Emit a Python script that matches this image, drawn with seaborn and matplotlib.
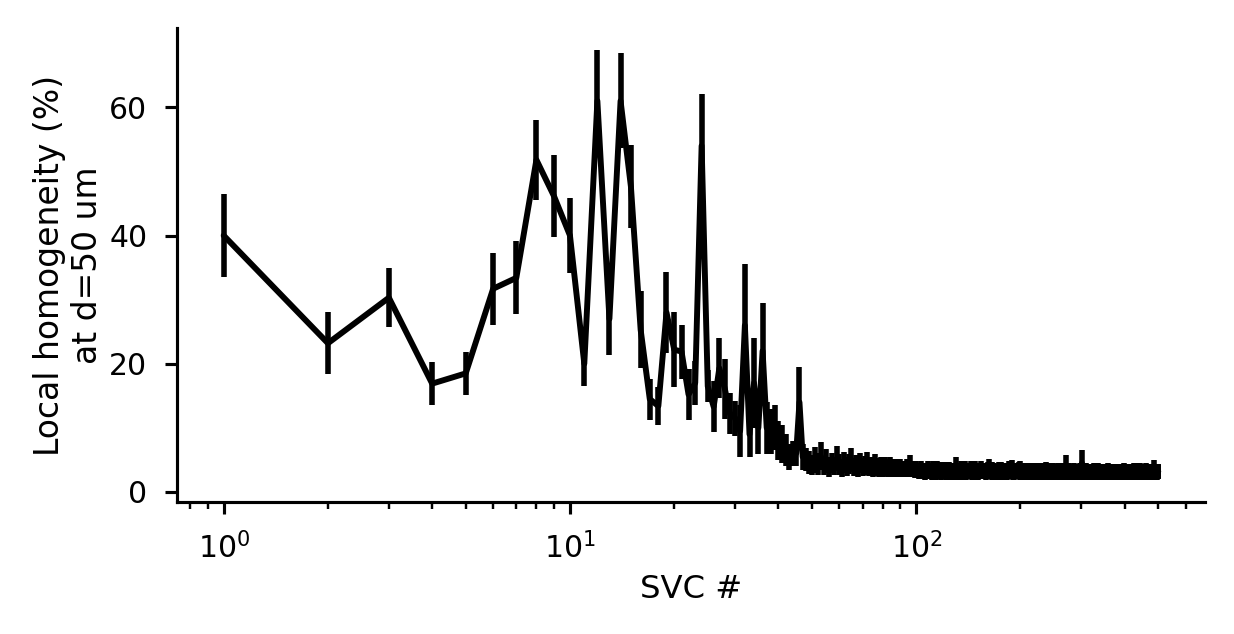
import numpy as np
import pandas as pd
import matplotlib
matplotlib.use("Agg")
import matplotlib.pyplot as plt
import seaborn as sns

# SVC 1..48
head_mean = [40.0, 23.2, 30.3, 16.9, 18.5, 31.7, 33.4, 51.8, 46.1, 40.0,
             20.0, 61.0, 27.0, 61.0, 47.6, 25.3, 14.5, 13.4, 28.0, 22.2,
             21.9, 15.2, 17.0, 54.0, 16.5, 13.3, 19.3, 16.1, 12.2, 11.5,
             9.5, 26.0, 9.0, 17.0, 10.0, 22.0, 10.0, 9.5, 10.0, 8.0,
             7.5, 6.5, 5.5, 6.0, 6.0, 14.0, 5.5, 5.0]
head_err = [6.4, 4.8, 4.6, 3.4, 3.4, 5.6, 5.7, 6.2, 6.4, 5.9,
            3.4, 8.0, 5.7, 7.4, 6.5, 6.0, 3.2, 2.9, 6.3, 5.9,
            4.2, 4.0, 3.5, 8.0, 2.5, 4.0, 4.7, 4.7, 3.2, 2.7,
            4.0, 9.5, 3.5, 7.0, 4.0, 7.5, 4.0, 3.5, 3.5, 3.0,
            3.0, 2.5, 2.0, 2.0, 2.0, 5.5, 2.0, 1.8]

# SVC 49..100
mid_mean = [4.6, 4.2, 5.0, 4.4, 5.6, 4.1, 4.8, 3.9, 4.5, 4.0,
            5.2, 4.3, 3.8, 4.6, 4.0, 4.4, 5.0, 3.9, 4.2, 3.7,
            4.5, 3.9, 4.1, 4.6, 3.8, 4.0, 3.6, 4.4, 3.9, 3.7,
            4.1, 3.6, 4.0, 3.8, 3.5, 4.0, 3.7, 3.9, 3.5, 3.8,
            3.6, 3.9, 3.4, 3.7, 3.5, 3.8, 3.4, 4.2, 3.5, 3.6,
            3.3, 3.7]
mid_err = [1.8, 1.6, 2.0, 1.7, 2.2, 1.5, 1.9, 1.5, 1.6, 1.4,
           2.0, 1.6, 1.4, 1.7, 1.5, 1.6, 1.9, 1.4, 1.5, 1.3,
           1.6, 1.4, 1.5, 1.7, 1.3, 1.4, 1.3, 1.6, 1.4, 1.3,
           1.4, 1.2, 1.4, 1.3, 1.2, 1.4, 1.3, 1.3, 1.2, 1.3,
           1.2, 1.3, 1.1, 1.2, 1.2, 1.3, 1.1, 1.6, 1.2, 1.2,
           1.1, 1.2]

# SVC 101..500 (flat tail)
tail_mean = [
    3.4, 3.1, 3.6, 3.2, 3.5, 3.0, 3.3, 3.7, 3.2, 3.4, 3.1, 3.5, 3.3, 3.0, 3.6, 3.2, 3.4, 3.1, 3.3, 3.5,
    3.2, 3.0, 3.4, 3.6, 3.1, 3.3, 3.5, 3.2, 3.0, 3.9, 3.3, 3.1, 3.4, 3.2, 3.5, 3.0, 3.3, 3.6, 3.1, 3.2,
    3.4, 3.1, 3.3, 3.5, 3.0, 3.2, 3.4, 3.6, 3.1, 3.3, 3.0, 3.4, 3.2, 3.5, 3.1, 3.3, 3.2, 3.4, 3.0, 3.3,
    3.5, 3.8, 3.1, 3.3, 3.0, 3.4, 3.2, 3.5, 3.1, 3.3, 3.2, 3.0, 3.4, 3.1, 3.3, 3.5, 3.2, 3.0, 3.3, 3.1,
    3.4, 3.2, 3.0, 3.3, 3.5, 3.1, 3.2, 3.4, 3.7, 3.1, 3.3, 3.0, 3.2, 3.4, 3.1, 3.3, 3.2, 3.5, 3.0, 3.7,
    3.2, 3.0, 3.3, 3.1, 3.4, 3.2, 3.0, 3.3, 3.5, 3.1, 3.2, 3.0, 3.4, 3.2, 3.1, 3.3, 3.0, 3.2, 3.4, 3.1,
    3.3, 3.0, 3.2, 3.1, 3.4, 3.2, 3.0, 3.3, 3.1, 3.2, 3.4, 3.0, 3.1, 3.3, 3.2, 3.0, 3.6, 3.2, 3.1, 3.3,
    3.0, 3.2, 3.4, 3.1, 3.0, 3.3, 3.2, 3.1, 3.4, 3.0, 3.2, 3.3, 3.1, 3.0, 3.2, 3.4, 3.1, 3.3, 3.0, 3.2,
    3.1, 3.3, 3.0, 3.2, 3.4, 3.1, 3.0, 3.2, 3.3, 3.1, 4.2, 3.2, 3.0, 3.3, 3.1, 3.2, 3.4, 3.0, 3.1, 3.3,
    3.2, 3.0, 3.3, 3.1, 3.2, 3.4, 3.0, 3.1, 3.3, 3.2, 3.0, 3.2, 3.1, 3.3, 3.0, 3.2, 3.4, 3.1, 3.0, 3.2,
    4.5, 3.1, 3.3, 3.0, 3.2, 3.1, 3.3, 3.0, 3.2, 3.4, 3.1, 3.0, 3.2, 3.3, 3.1, 3.0, 3.2, 3.1, 3.3, 3.0,
    3.2, 3.1, 3.3, 3.0, 3.2, 3.4, 3.1, 3.0, 3.2, 3.1, 3.3, 3.0, 3.2, 3.1, 3.0, 3.3, 3.2, 3.1, 3.0, 3.2,
    3.3, 3.1, 3.0, 3.2, 3.1, 3.3, 3.0, 3.2, 3.1, 3.0, 3.2, 3.3, 3.1, 3.0, 3.2, 3.1, 3.3, 3.0, 3.1, 3.2,
    3.0, 3.2, 3.1, 3.3, 3.0, 3.2, 3.1, 3.0, 3.2, 3.3, 3.1, 3.0, 3.2, 3.1, 3.0, 3.3, 3.1, 3.2, 3.0, 3.1,
    3.2, 3.0, 3.3, 3.1, 3.2, 3.0, 3.1, 3.3, 3.0, 3.2, 3.1, 3.0, 3.2, 3.3, 3.1, 3.0, 3.2, 3.1, 3.3, 3.0,
    3.1, 3.2, 3.0, 3.3, 3.1, 3.2, 3.0, 3.1, 3.3, 3.2, 3.0, 3.1, 3.2, 3.0, 3.3, 3.1, 3.2, 3.0, 3.1, 3.2,
    3.3, 3.0, 3.1, 3.2, 3.0, 3.3, 3.1, 3.2, 3.0, 3.1, 3.2, 3.3, 3.0, 3.1, 3.2, 3.0, 3.1, 3.3, 3.2, 3.0,
    3.1, 3.2, 3.0, 3.3, 3.1, 3.0, 3.2, 3.1, 3.3, 3.0, 3.2, 3.1, 3.0, 3.2, 3.3, 3.1, 3.0, 3.2, 3.1, 3.0,
    3.2, 3.3, 3.1, 3.0, 3.2, 3.1, 3.3, 3.0, 3.1, 3.2, 3.0, 3.3, 3.1, 3.2, 3.0, 3.1, 3.2, 3.3, 3.0, 3.1,
    3.2, 3.0, 3.1, 3.3, 3.2, 3.7, 3.1, 3.0, 3.2, 3.3, 3.1, 3.0, 3.2, 3.1, 3.3, 3.0, 3.2, 3.1, 3.3, 3.2]
tail_err = [
    1.2, 1.1, 1.3, 1.2, 1.1, 1.2, 1.3, 1.1, 1.2, 1.1, 1.2, 1.3, 1.1, 1.2, 1.2, 1.1, 1.3, 1.2, 1.1, 1.2,
    1.1, 1.2, 1.3, 1.1, 1.2, 1.2, 1.1, 1.3, 1.2, 1.6, 1.1, 1.2, 1.2, 1.1, 1.3, 1.2, 1.1, 1.2, 1.3, 1.1,
    1.2, 1.1, 1.2, 1.3, 1.1, 1.2, 1.1, 1.2, 1.3, 1.1, 1.2, 1.1, 1.2, 1.3, 1.1, 1.2, 1.2, 1.1, 1.2, 1.1,
    1.2, 1.4, 1.1, 1.2, 1.1, 1.3, 1.2, 1.1, 1.2, 1.1, 1.2, 1.1, 1.3, 1.2, 1.1, 1.2, 1.1, 1.2, 1.1, 1.2,
    1.1, 1.2, 1.1, 1.2, 1.3, 1.1, 1.2, 1.1, 1.3, 1.2, 1.1, 1.2, 1.1, 1.2, 1.1, 1.2, 1.1, 1.2, 1.1, 1.2,
    1.1, 1.2, 1.1, 1.2, 1.1, 1.2, 1.1, 1.2, 1.1, 1.2, 1.1, 1.2, 1.1, 1.2, 1.1, 1.2, 1.1, 1.2, 1.1, 1.2,
    1.1, 1.2, 1.1, 1.1, 1.2, 1.1, 1.2, 1.1, 1.2, 1.1, 1.1, 1.2, 1.1, 1.2, 1.1, 1.2, 1.1, 1.1, 1.2, 1.1,
    1.2, 1.1, 1.1, 1.2, 1.1, 1.2, 1.1, 1.1, 1.2, 1.1, 1.2, 1.1, 1.1, 1.2, 1.1, 1.1, 1.2, 1.1, 1.2, 1.1,
    1.1, 1.2, 1.1, 1.1, 1.2, 1.1, 1.2, 1.1, 1.1, 1.2, 1.6, 1.1, 1.2, 1.1, 1.1, 1.2, 1.1, 1.2, 1.1, 1.1,
    1.2, 1.1, 1.1, 1.2, 1.1, 1.1, 1.2, 1.1, 1.1, 1.2, 1.1, 1.1, 1.2, 1.1, 1.2, 1.1, 1.1, 1.2, 1.1, 1.1,
    2.1, 1.1, 1.2, 1.1, 1.1, 1.2, 1.1, 1.1, 1.2, 1.1, 1.1, 1.2, 1.1, 1.1, 1.2, 1.1, 1.1, 1.2, 1.1, 1.1,
    1.2, 1.1, 1.1, 1.2, 1.1, 1.1, 1.2, 1.1, 1.1, 1.2, 1.1, 1.1, 1.2, 1.1, 1.1, 1.2, 1.1, 1.1, 1.2, 1.1,
    1.1, 1.2, 1.1, 1.1, 1.2, 1.1, 1.1, 1.2, 1.1, 1.1, 1.2, 1.1, 1.1, 1.2, 1.1, 1.1, 1.2, 1.1, 1.1, 1.2,
    1.1, 1.1, 1.2, 1.1, 1.1, 1.2, 1.1, 1.1, 1.2, 1.1, 1.1, 1.2, 1.1, 1.1, 1.2, 1.1, 1.1, 1.2, 1.1, 1.1,
    1.2, 1.1, 1.1, 1.2, 1.1, 1.1, 1.2, 1.1, 1.1, 1.2, 1.1, 1.1, 1.2, 1.1, 1.1, 1.2, 1.1, 1.1, 1.2, 1.1,
    1.1, 1.2, 1.1, 1.1, 1.2, 1.1, 1.1, 1.2, 1.1, 1.1, 1.2, 1.1, 1.1, 1.2, 1.1, 1.1, 1.2, 1.1, 1.1, 1.2,
    1.1, 1.1, 1.2, 1.1, 1.1, 1.2, 1.1, 1.1, 1.2, 1.1, 1.1, 1.2, 1.1, 1.1, 1.2, 1.1, 1.1, 1.2, 1.1, 1.1,
    1.2, 1.1, 1.1, 1.2, 1.1, 1.1, 1.2, 1.1, 1.1, 1.2, 1.1, 1.1, 1.2, 1.1, 1.1, 1.2, 1.1, 1.1, 1.2, 1.1,
    1.1, 1.2, 1.1, 1.1, 1.2, 1.1, 1.1, 1.2, 1.1, 1.1, 1.2, 1.1, 1.1, 1.2, 1.1, 1.1, 1.2, 1.1, 1.1, 1.2,
    1.1, 1.2, 1.1, 1.1, 1.2, 1.3, 1.1, 1.2, 1.1, 1.1, 1.2, 1.1, 1.1, 1.2, 1.1, 1.1, 1.2, 1.1, 1.1, 1.2]

homog = head_mean + mid_mean + tail_mean
homog_err = head_err + mid_err + tail_err
svc = list(range(1, len(homog) + 1))

df = pd.DataFrame({"svc": svc, "homog": homog, "err": homog_err})

sns.set_theme(style="ticks")
plt.rcParams["font.family"] = ["DejaVu Sans"]
plt.rcParams["text.color"] = "black"
plt.rcParams["axes.labelcolor"] = "black"

fig, ax = plt.subplots(figsize=(1234 / 250, 634 / 250), dpi=250)
fig.subplots_adjust(left=0.1434, right=0.9765, bottom=0.2082, top=0.9558)

sns.lineplot(data=df, x="svc", y="homog", color="black", linewidth=1.7, ax=ax)
ax.errorbar(df["svc"], df["homog"], yerr=df["err"], fmt="none",
            ecolor="black", elinewidth=1.6, capsize=0)

ax.set_xscale("log")
ax.set_xlabel("SVC #", fontsize=9.3, labelpad=3)
ax.set_ylabel("Local homogeneity (%)\nat d=50 um", fontsize=9.5, labelpad=1.5)
ax.set_yticks([0, 20, 40, 60])
ax.tick_params(axis="both", which="major", labelsize=8.6, length=3.5, width=0.9,
               pad=5, color="black", labelcolor="black")
ax.tick_params(axis="x", which="minor", length=2, width=0.7, color="black")
for s in ax.spines.values():
    s.set_linewidth(0.9)
    s.set_color("black")
sns.despine(ax=ax)

fig.savefig("out.png", dpi=250)
